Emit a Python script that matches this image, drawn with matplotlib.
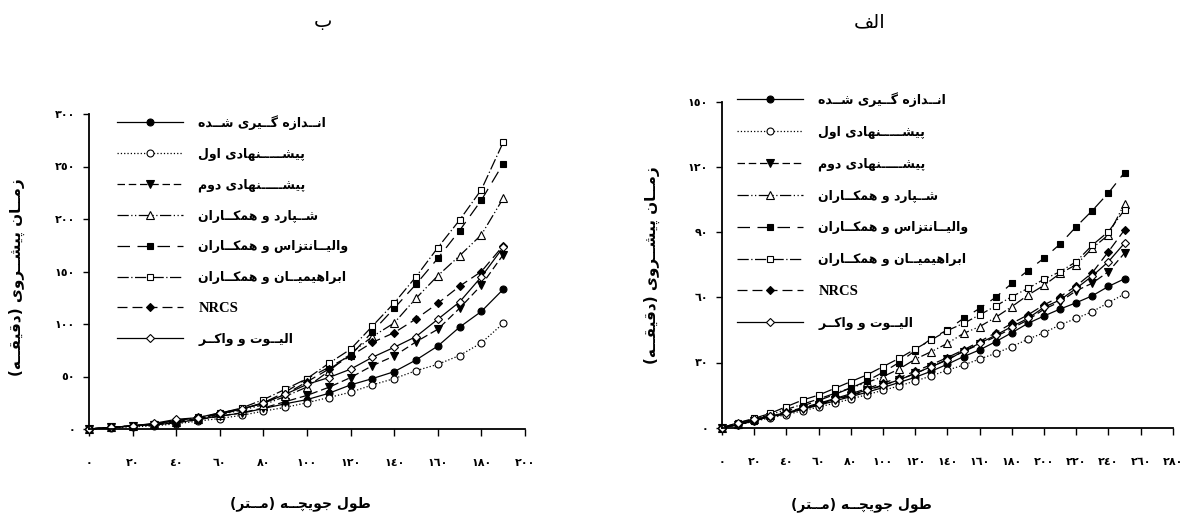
import numpy as np
import matplotlib
matplotlib.use('Agg')
import matplotlib.pyplot as plt
from matplotlib.ticker import FixedLocator

plt.rcParams['font.family'] = ['DejaVu Sans']

# ---- data (minutes) ----
# chart "ب"
x_b = np.arange(0, 200, 10)
measured_b = [0, 1.5, 3, 4, 6, 9, 12.5, 15, 19.5, 24, 28, 34, 42, 48, 54.6, 65.7, 79, 97, 112, 133]
proposed1_b = [0, 1, 2, 3, 5, 7.5, 10, 13, 17, 20.6, 25, 30, 35, 42, 48, 55.5, 61.6, 70, 82, 100.6]
proposed2_b = [0, 1.5, 3, 4, 6, 9, 12, 15.5, 20, 26, 32, 39.7, 49, 60.3, 69.5, 83, 95, 115, 137, 166]
shepard_b = [0, 1.5, 3, 4.5, 7, 10, 13.5, 18, 23, 31, 40, 55, 72, 88, 101, 124.5, 146, 165, 185, 219.7]
valiantzas_b = [0, 1.5, 3, 4.5, 7, 10, 14, 19, 25, 35, 48, 58.7, 70, 92.7, 115, 137.8, 162.5, 189, 218, 252.7]
ebrahimian_b = [0, 1.5, 3, 5, 8, 11, 15, 20, 28, 37.8, 48, 62.5, 76, 98, 120, 145, 172.7, 199, 228, 273]
nrcs_b = [0, 1.5, 3, 5, 8, 11, 14.5, 18.5, 25, 33, 45, 57, 69.5, 82.5, 91.7, 104.8, 119.7, 136, 150, 174.6]
elliott_b = [0, 1.5, 3, 5.4, 9.2, 10.8, 15.5, 19, 24.4, 33, 42.5, 49, 57, 68.3, 77.8, 88, 104.5, 121, 145, 173]

# chart "الف"
x_a = np.arange(0, 260, 10)
measured_a = [0, 1.5, 3.5, 5, 6.5, 8.5, 10.3, 12.3, 14.3, 16.3, 18.5, 20.8, 23.2, 26, 29.2, 32.7,
              35.8, 39.6, 43.7, 48, 51.4, 54.6, 57.5, 60.7, 65, 68.5]
proposed1_a = [0, 1.2, 3, 4.5, 6, 7.8, 9.5, 11.3, 13.2, 15.2, 17.2, 19.2, 21.5, 23.8, 26.5, 28.8,
               31.6, 34.2, 37.3, 40.7, 43.7, 47.3, 50.3, 53.4, 57.5, 61.5]
proposed2_a = [0, 1.3, 3.2, 4.8, 6.6, 8.6, 10.6, 12.7, 14.8, 17, 19.5, 22, 25, 28, 31.5, 35,
               38.4, 41.9, 45.7, 49.6, 54.5, 58, 63, 66.5, 71.8, 80.3]
shepard_a = [0, 1.5, 3.8, 6, 8.4, 10.8, 13.2, 15.8, 18.3, 20.8, 23.5, 27, 31.5, 35, 38.8, 43.4,
             46.5, 50.8, 55.7, 61, 65.5, 71, 75, 82.6, 88.7, 103]
valiantzas_a = [0, 1.3, 3.2, 5.2, 7.5, 10, 12.5, 15.3, 18.3, 21.5, 25.5, 30, 35.5, 41, 45, 50.3,
                54.9, 60, 66.4, 72.3, 78, 84.5, 92.5, 99.9, 108, 117.4]
ebrahimian_a = [0, 2.3, 4.3, 6.6, 9.7, 12.7, 15, 18.1, 21.2, 24.3, 28.1, 31.9, 36.2, 40.4, 44.7, 48,
                51.9, 56, 60.3, 64.1, 68.3, 71.8, 76.4, 84, 90.2, 100.2]
nrcs_a = [0, 1.5, 3.6, 5.4, 7.2, 9.2, 11.2, 13.4, 15.6, 18, 20.5, 23, 26, 29, 32.3, 35.8,
          39.6, 43.7, 48, 51.9, 56.5, 60.3, 65.2, 71.3, 81, 91]
elliott_a = [0, 2.3, 3.9, 5.4, 6.9, 8.9, 10.8, 13.1, 15, 17.4, 19.6, 22, 25, 28.1, 31.1, 35.3,
             38.8, 42.6, 46.5, 50.3, 55.4, 58.8, 64.1, 69.8, 76.4, 84.9]

labels = ['انــدازه گــیری شــده', 'پیشـــــنهادی اول', 'پیشـــــنهادی دوم',
          'شــپارد و همکــاران', 'والیــانتزاس و همکــاران', 'ابراهیمیــان و همکــاران',
          'NRCS', 'الیــوت و واکــر']

xticks_b = [0, 20, 40, 60, 80, 100, 120, 140, 160, 180, 200]
yticks_b = [0, 50, 100, 150, 200, 250, 300]
xticks_a = [0, 20, 40, 60, 80, 100, 120, 140, 160, 180, 200, 220, 240, 260, 280]
yticks_a = [0, 30, 60, 90, 120, 150]

# ---- minimal arabic shaping (matplotlib has no bidi/shaping) ----
FORMS = {
    'ا': ('\uFE8D', '\uFE8E', None, None), 'ب': ('\uFE8F', '\uFE90', '\uFE91', '\uFE92'),
    'پ': ('\uFB56', '\uFB57', '\uFB58', '\uFB59'), 'ت': ('\uFE95', '\uFE96', '\uFE97', '\uFE98'),
    'ج': ('\uFE9D', '\uFE9E', '\uFE9F', '\uFEA0'), 'چ': ('\uFB7A', '\uFB7B', '\uFB7C', '\uFB7D'),
    'د': ('\uFEA9', '\uFEAA', None, None), 'ر': ('\uFEAD', '\uFEAE', None, None),
    'ز': ('\uFEAF', '\uFEB0', None, None), 'س': ('\uFEB1', '\uFEB2', '\uFEB3', '\uFEB4'),
    'ش': ('\uFEB5', '\uFEB6', '\uFEB7', '\uFEB8'), 'ط': ('\uFEC1', '\uFEC2', '\uFEC3', '\uFEC4'),
    'ف': ('\uFED1', '\uFED2', '\uFED3', '\uFED4'), 'ق': ('\uFED5', '\uFED6', '\uFED7', '\uFED8'),
    'ک': ('\uFB8E', '\uFB8F', '\uFB90', '\uFB91'), 'گ': ('\uFB92', '\uFB93', '\uFB94', '\uFB95'),
    'ل': ('\uFEDD', '\uFEDE', '\uFEDF', '\uFEE0'), 'م': ('\uFEE1', '\uFEE2', '\uFEE3', '\uFEE4'),
    'ن': ('\uFEE5', '\uFEE6', '\uFEE7', '\uFEE8'), 'ه': ('\uFEE9', '\uFEEA', '\uFEEB', '\uFEEC'),
    'و': ('\uFEED', '\uFEEE', None, None), 'ی': ('\uFBFC', '\uFBFD', '\uFBFE', '\uFBFF'),
}
TATWEEL = '\u0640'


def shape(s):
    if not any(c in FORMS for c in s):
        return s

    def links_left(c):
        return c == TATWEEL or (c in FORMS and FORMS[c][2] is not None)

    def joinable(c):
        return c == TATWEEL or c in FORMS

    out = []
    for i, c in enumerate(s):
        if c not in FORMS:
            out.append(c)
            continue
        prev = s[i - 1] if i > 0 else ''
        nxt = s[i + 1] if i + 1 < len(s) else ''
        p = bool(prev) and links_left(prev)
        n = FORMS[c][2] is not None and bool(nxt) and joinable(nxt)
        iso, fin, ini, med = FORMS[c]
        out.append(med if p and n else fin if p else ini if n else iso)
    return ''.join(out)[::-1].translate(str.maketrans('()', ')('))


def ar_digits(v):
    return str(v).translate(str.maketrans('0123456789', '٠١٢٣٤٥٦٧٨٩'))


STYLES = [
    dict(marker='o', ls='-', mfc='black', ms=5),
    dict(marker='o', ls=':', mfc='white', ms=5),
    dict(marker='v', ls=(0, (6, 3)), mfc='black', ms=5.5),
    dict(marker='^', ls=(0, (9, 2, 1, 2, 1, 2)), mfc='white', ms=5.5),
    dict(marker='s', ls=(0, (10, 6)), mfc='black', ms=5),
    dict(marker='s', ls=(0, (9, 2, 1, 2)), mfc='white', ms=5),
    dict(marker='D', ls=(0, (8, 4)), mfc='black', ms=4.5),
    dict(marker='D', ls='-', mfc='white', ms=4.5),
]


def draw(ax, x, series, xticks, yticks, legend_xy, labelspacing):
    for y, lab, st in zip(series, labels, STYLES):
        ax.plot(x, y, color='black', lw=0.9, mec='black', mew=0.8, label=shape(lab),
                clip_on=False, **st)
    ax.set_xlim(xticks[0], xticks[-1])
    ax.set_ylim(yticks[0], yticks[-1])
    ax.xaxis.set_major_locator(FixedLocator(xticks))
    ax.yaxis.set_major_locator(FixedLocator(yticks))
    ax.set_xticklabels([ar_digits(t) for t in xticks], fontsize=8, fontweight='bold')
    ax.set_yticklabels([ar_digits(t) for t in yticks], fontsize=8, fontweight='bold')
    ax.tick_params(axis='x', direction='out', length=5, width=1, pad=16)
    ax.tick_params(axis='y', direction='out', length=4, width=1, pad=6)
    for side in ('top', 'right'):
        ax.spines[side].set_visible(False)
    for side in ('left', 'bottom'):
        ax.spines[side].set_linewidth(1.3)
    leg = ax.legend(loc='upper left', bbox_to_anchor=legend_xy, bbox_transform=ax.figure.transFigure,
                    frameon=False, borderpad=0, borderaxespad=0, handlelength=5.3,
                    handletextpad=1.2, labelspacing=labelspacing,
                    prop=dict(size=9, weight='bold'))
    leg.get_texts()[6].set_family(['Liberation Serif', 'DejaVu Serif'])
    leg.get_texts()[6].set_fontsize(10.5)
    ax.set_xlabel(shape('طول جویچــه (مــتر)'), fontsize=10, fontweight='bold')
    ax.set_ylabel(shape('زمــان پیشــروی (دقیقــه)'), fontsize=11, fontweight='bold')


W, H = 1183, 513
fig = plt.figure(figsize=(W / 100, H / 100), dpi=100)

ax_b = fig.add_axes([89 / W, 1 - 429 / H, 436 / W, 315 / H])
draw(ax_b, x_b, [measured_b, proposed1_b, proposed2_b, shepard_b, valiantzas_b,
                 ebrahimian_b, nrcs_b, elliott_b],
     xticks_b, yticks_b, (117 / W, 1 - 115 / H), 1.42)
ax_b.xaxis.set_label_coords(0.485, -0.215)
ax_b.yaxis.set_label_coords(-0.147, 0.483)

ax_a = fig.add_axes([722 / W, 1 - 427.7 / H, 450.8 / W, 326 / H])
draw(ax_a, x_a, [measured_a, proposed1_a, proposed2_a, shepard_a, valiantzas_a,
                 ebrahimian_a, nrcs_a, elliott_a],
     xticks_a, yticks_a, (737 / W, 1 - 92 / H), 1.5)
ax_a.xaxis.set_label_coords(0.31, -0.212)
ax_a.yaxis.set_label_coords(-0.1375, 0.5)

fig.text(323 / W, 1 - 22 / H, shape('ب'), ha='center', va='center', fontsize=14)
fig.text(870 / W, 1 - 22 / H, shape('الف'), ha='center', va='center', fontsize=14)

fig.savefig('out.png', dpi=100)
